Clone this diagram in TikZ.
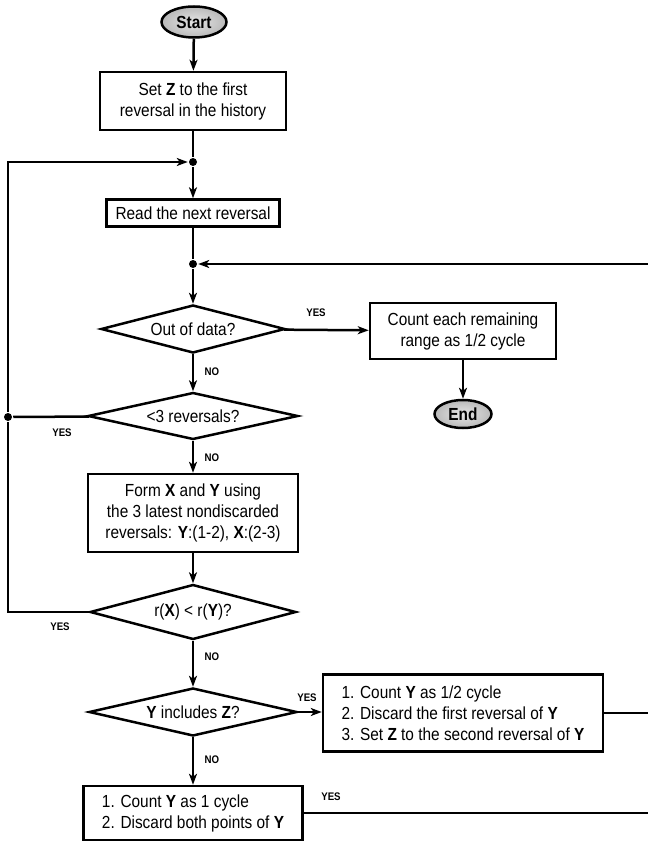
\documentclass[tikz,border=0pt]{standalone}
\usepackage{fontspec}
\setmainfont{Liberation Sans}[FakeStretch=0.88]
\usepackage{tikz}
\usetikzlibrary{arrows.meta,shapes.geometric}

\begin{document}
\begin{tikzpicture}[x=1pt,y=-1pt,line width=2.5pt,>={Stealth[length=11pt,width=8pt,inset=3pt]}]
\tikzset{every node/.style={font=\fontsize{17.5}{21}\selectfont}}
\tikzset{blk/.style={draw,rectangle,align=center,inner sep=0pt}}
\tikzset{test/.style={draw,diamond,aspect=4,inner sep=0pt}}
\tikzset{term/.style={draw,ellipse,inner color=gray!20,outer color=gray!55,inner sep=0pt,font=\fontsize{17.5}{20}\selectfont\bfseries}}
\tikzset{ans/.style={font=\fontsize{11}{12}\selectfont\bfseries,inner sep=0pt}}
\tikzset{junc/.style={circle,fill,inner sep=0pt,minimum size=8pt}}

\useasboundingbox (0,0) rectangle (647,842);
\coordinate (edge) at (652,0);

\node[term,minimum width=65,minimum height=31] (start) at (194,22) {Start};
\node[blk,minimum width=186,minimum height=58] (setz) at (193,101) {Set \textbf{Z} to the first\\reversal in the history};
\node[junc] (dot1) at (193,162) {};
\node[blk,minimum width=173,minimum height=27] (read) at (193,213) {Read the next reversal};
\node[junc] (dot2) at (193,264) {};
\node[test,minimum width=184,minimum height=48] (outdata) at (193,329) {Out of data?};
\node[blk,minimum width=186,minimum height=56] (count) at (463,331) {Count each remaining\\range as 1/2 cycle};
\node[term,minimum width=57,minimum height=28] (end) at (463,414) {End};
\node[test,minimum width=210,minimum height=47] (less3) at (193,416) {<3 reversals?};
\node[junc] (dot3) at (8,417) {};
\node[blk,minimum width=210,minimum height=78] (form) at (193,513) {Form \textbf{X} and \textbf{Y} using\\the 3 latest nondiscarded\\reversals: \textbf{Y}:(1-2), \textbf{X}:(2-3)};
\node[test,minimum width=206,minimum height=55] (rxy) at (193,612) {r(\textbf{X}) < r(\textbf{Y})?};
\node[test,minimum width=208,minimum height=48] (yinc) at (193,712) {\textbf{Y} includes \textbf{Z}?};
\node[blk,align=left,minimum width=280,minimum height=77] (half) at (463,713) {1. Count \textbf{Y} as 1/2 cycle\\2. Discard the first reversal of \textbf{Y}\\3. Set \textbf{Z} to the second reversal of \textbf{Y}};
\node[blk,align=left,minimum width=219,minimum height=54] (full) at (193,813) {1. Count \textbf{Y} as 1 cycle\\2. Discard both points of \textbf{Y}};

% answers
\node[ans] (yes1) at (316,313) {YES};
\node[ans] (no1) at (212,372) {NO};
\node[ans] (yes2) at (62,433) {YES};
\node[ans] (no2) at (212,458) {NO};
\node[ans] (yes3) at (60,627) {YES};
\node[ans] (no3) at (212,657) {NO};
\node[ans] (yes4) at (307,698) {YES};
\node[ans] (no4) at (212,760) {NO};
\node[ans] (yes5) at (331,797) {YES};

\draw[->] (start) -- (setz);
\draw (setz) -- (dot1);
\draw[->] (dot1) -- (read);
\draw (read) -- (dot2);
\draw[->] (dot2) -- (outdata);
\draw[->] (outdata) -- (count);
\draw[->] (count) -- (end);
\draw[->] (outdata) -- (less3);
\draw (less3) -- (dot3);
\draw[->] (dot3) |- (dot1);
\draw[->] (less3) -- (form);
\draw[->] (form) -- (rxy);
\draw (rxy) -| (dot3);
\draw[->] (rxy) -- (yinc);
\draw[->] (yinc) -- (yinc -| half.west);
\draw[->] (yinc) -- (full);
\draw[->] (half.east) -- (half.east -| edge) |- (dot2);
\draw (full.east) -- (full.east -| edge);
\end{tikzpicture}
\end{document}
